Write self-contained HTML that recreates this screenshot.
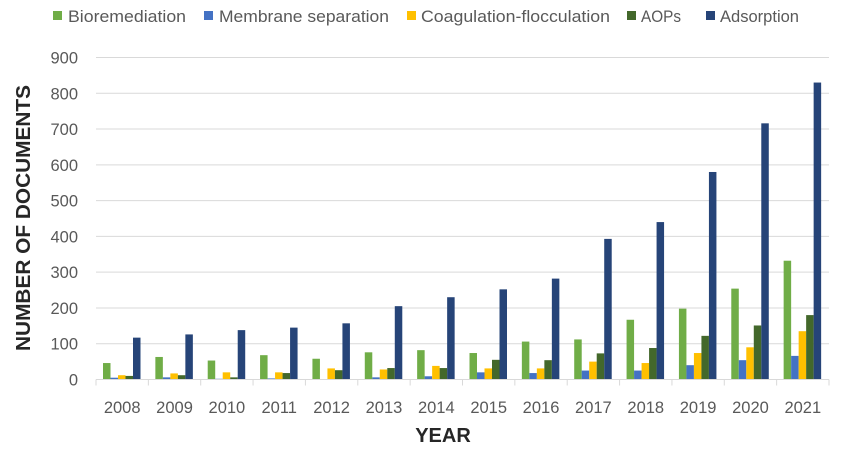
<!DOCTYPE html>
<html><head><meta charset="utf-8"><style>
html,body{margin:0;padding:0;background:#fff;width:843px;height:452px;overflow:hidden}
svg text{font-family:"Liberation Sans",sans-serif}
</style></head><body>
<svg id="c" width="843" height="452" xmlns="http://www.w3.org/2000/svg"></svg>
<script>
const s=document.getElementById('c');let h='';
const y0=379.5,k=(379.5-57.5)/900;
for(let v=0;v<=900;v+=100){const y=y0-v*k;
 if(v>0)h+=`<line x1="96" x2="829" y1="${y}" y2="${y}" stroke="#d9d9d9" stroke-width="1"/>`;
 h+=`<text x="78" y="${y+6}" text-anchor="end" font-size="16.5" fill="#595959">${v}</text>`;}
const cols=['#70ad47','#4472c4','#ffc000','#43682b','#264478'];
const d=[[46,5,12,10,117],[63,6,17,12,126],[53,2,20,6,138],[68,3,20,18,145],[58,1,31,26,157],[76,6,28,32,205],[82,9,38,32,230],[74,20,31,55,252],[106,18,31,54,282],[112,25,50,73,393],[167,25,46,88,440],[198,40,74,122,580],[254,54,90,151,716],[332,66,135,180,830]];
const cw=(829-96)/14;
d.forEach((g,i)=>{const gx=96+i*cw;
 g.forEach((v,j)=>{const bh=v*k;h+=`<rect x="${gx+7+j*7.5}" y="${y0-bh}" width="7.5" height="${bh}" fill="${cols[j]}"/>`;});
 h+=`<text x="${gx+cw/2}" y="413" text-anchor="middle" font-size="16.5" fill="#595959">${2008+i}</text>`;
 h+=`<line x1="${gx}" x2="${gx}" y1="${y0}" y2="${y0+6}" stroke="#d9d9d9"/>`;});
h+=`<line x1="829" x2="829" y1="${y0}" y2="${y0+6}" stroke="#d9d9d9"/>`;
h+=`<line x1="96" x2="829" y1="${y0}" y2="${y0}" stroke="#d9d9d9"/>`;
h+=`<text x="443" y="442" text-anchor="middle" font-size="20" font-weight="bold" fill="#262626">YEAR</text>`;
h+=`<text transform="translate(30,218) rotate(-90)" text-anchor="middle" font-size="20.5" font-weight="bold" fill="#262626" textLength="266" lengthAdjust="spacingAndGlyphs">NUMBER OF DOCUMENTS</text>`;
const L=[['Bioremediation',53,68,118],['Membrane separation',204,219,170],['Coagulation-flocculation',407,421,189],['AOPs',627,641,40],['Adsorption',706,720,79]];
L.forEach((l,i)=>{h+=`<rect x="${l[1]}" y="11" width="9" height="9" fill="${cols[i]}"/><text x="${l[2]}" y="22" font-size="16.5" fill="#595959" textLength="${l[3]}" lengthAdjust="spacingAndGlyphs">${l[0]}</text>`;});
s.innerHTML=h;
</script>
</body></html>
